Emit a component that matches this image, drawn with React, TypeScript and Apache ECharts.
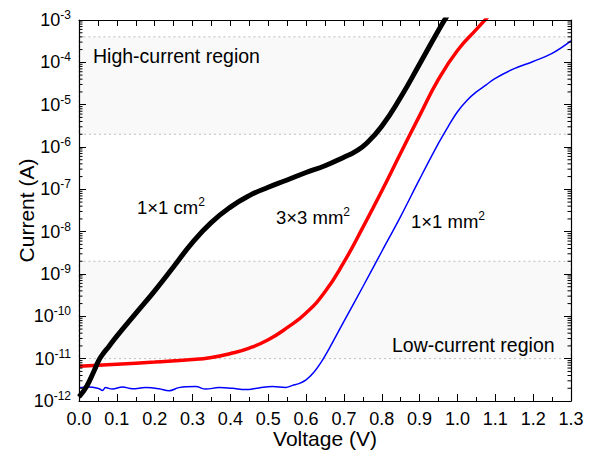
import React, { useEffect, useRef } from "react";
import * as echarts from "echarts";

// 1×1 cm² device (black)
const voltageBlack = [0, 0.02, 0.04, 0.05, 0.06, 0.08, 0.1, 0.15, 0.2, 0.25, 0.3, 0.35, 0.4, 0.45, 0.5, 0.55, 0.6, 0.65, 0.7, 0.73, 0.76, 0.8, 0.85, 0.9, 0.95, 0.975];
const currentBlack = [1.25e-12, 2.2e-12, 5.2e-12, 8.3e-12, 1.18e-11, 2.0e-11, 3.4e-11, 1.17e-10, 4.0e-10, 1.48e-9, 5.6e-9, 1.66e-8, 3.8e-8, 7.1e-8, 1.12e-7, 1.66e-7, 2.5e-7, 3.6e-7, 5.75e-7, 7.8e-7, 1.23e-6, 3.1e-6, 1.5e-5, 9.1e-5, 5.75e-4, 1.35e-3];

// 3×3 mm² device (red)
const voltageRed = [0, 0.1, 0.2, 0.3, 0.35, 0.4, 0.45, 0.5, 0.55, 0.6, 0.65, 0.7, 0.75, 0.8, 0.85, 0.9, 0.95, 1.0, 1.05, 1.08];
const currentRed = [6.6e-12, 7.4e-12, 8.3e-12, 9.5e-12, 1.07e-11, 1.32e-11, 1.78e-11, 2.8e-11, 5.4e-11, 1.2e-10, 3.8e-10, 1.9e-9, 1.26e-8, 9.1e-8, 7.2e-7, 5.5e-6, 4.0e-5, 1.9e-4, 6.0e-4, 1.17e-3];

// 1×1 mm² device (blue)
const voltageBlue = [0, 0.026, 0.053, 0.062, 0.07, 0.088, 0.115, 0.141, 0.176, 0.211, 0.238, 0.264, 0.308, 0.335, 0.37, 0.405, 0.44, 0.476, 0.511, 0.546, 0.564, 0.581, 0.6, 0.62, 0.64, 0.66, 0.68, 0.7, 0.75, 0.8, 0.85, 0.9, 0.95, 0.975, 1.0, 1.025, 1.05, 1.075, 1.1, 1.15, 1.2, 1.25, 1.3];
const currentBlue = [2.07e-12, 2.14e-12, 1.95e-12, 1.78e-12, 2.07e-12, 1.91e-12, 2.14e-12, 1.95e-12, 2.07e-12, 1.95e-12, 1.74e-12, 2.07e-12, 2.19e-12, 1.91e-12, 2.07e-12, 2.0e-12, 1.86e-12, 2.04e-12, 2.19e-12, 2.09e-12, 2.34e-12, 2.57e-12, 3.16e-12, 4.7e-12, 8.3e-12, 1.66e-11, 3.55e-11, 7.6e-11, 5.0e-10, 3.4e-9, 2.3e-8, 1.74e-7, 1.23e-6, 3.0e-6, 6.8e-6, 1.26e-5, 2.0e-5, 2.9e-5, 4.2e-5, 7.1e-5, 1.05e-4, 1.62e-4, 3.2e-4];

// shaded regions (current bounds)
const highRegion = [2e-6, 4e-4];
const lowRegion = [1e-11, 2e-9];

// axis ranges
const xMin = 0;
const xMax = 1.3;
const xStep = 0.1;
const yMin = 1e-12;
const yMax = 1e-3;
const decadeExps = [-12, -11, -10, -9, -8, -7, -6, -5, -4];
const minorMantissas = [2, 3, 4, 5, 6, 7, 8, 9];

const FONT = "'Liberation Sans', Arial, sans-serif";

export default function App() {
  const ref = useRef<HTMLDivElement>(null);

  useEffect(() => {
    if (!ref.current) return;
    const chart = echarts.init(ref.current, null, { renderer: "svg" });

    const pairs = (xs: number[], ys: number[]) => xs.map((x, i) => [x, ys[i]]);
    const minorTicks: number[][] = [];
    decadeExps.forEach((e) => minorMantissas.forEach((m) => minorTicks.push([0, m * Math.pow(10, e)])));

    const axisLine = { show: true, onZero: false, lineStyle: { color: "#000", width: 1.2 } };
    const yLabelRich = {
      b: { fontSize: 18, fontFamily: FONT, color: "#000", lineHeight: 22 },
      s: { fontSize: 12, fontFamily: FONT, color: "#000", verticalAlign: "top", lineHeight: 22, padding: [0, 0, 6, 0] },
    };
    const supRich = {
      a: { fontSize: 18.5, fontFamily: FONT, fill: "#000", lineHeight: 22 },
      s: { fontSize: 12, fontFamily: FONT, fill: "#000", verticalAlign: "top", lineHeight: 22, padding: [0, 0, 6, 0] },
    };

    chart.setOption({
      animation: false,
      grid: { left: 79, right: 24, top: 20, bottom: 49, containLabel: false, outerBoundsMode: "none" },
      xAxis: [
        {
          type: "value",
          min: xMin,
          max: xMax,
          interval: xStep,
          position: "bottom",
          name: "Voltage (V)",
          nameLocation: "middle",
          nameGap: 27,
          nameMoveOverlap: false,
          nameTextStyle: { fontSize: 21, fontFamily: FONT, color: "#000", lineHeight: 20 },
          axisLine,
          axisTick: { show: true, inside: true, length: 7, lineStyle: { color: "#000", width: 1 } },
          minorTick: { show: true, splitNumber: 2, length: 4, lineStyle: { color: "#000", width: 1 } },
          axisLabel: { fontSize: 18, lineHeight: 17, fontFamily: FONT, color: "#000", margin: 9, formatter: (v: number) => v.toFixed(1) },
          splitLine: { show: false },
          z: 10,
        },
        {
          type: "value",
          min: xMin,
          max: xMax,
          interval: xStep,
          position: "top",
          axisLine,
          axisTick: { show: true, inside: true, length: 6, lineStyle: { color: "#000", width: 1 } },
          minorTick: { show: true, splitNumber: 2, length: 6, lineStyle: { color: "#000", width: 1 } },
          axisLabel: { show: false },
          splitLine: { show: false },
          z: 10,
        },
      ],
      yAxis: [
        {
          type: "log",
          logBase: 10,
          min: yMin,
          max: yMax,
          splitNumber: 9,
          position: "left",
          name: "Current (A)",
          nameLocation: "middle",
          nameGap: 42,
          nameMoveOverlap: false,
          nameTextStyle: { fontSize: 21, fontFamily: FONT, color: "#000" },
          axisLine,
          axisTick: { show: true, inside: true, length: 7, lineStyle: { color: "#000", width: 1 } },
          axisLabel: {
            margin: 8,
            formatter: (v: number) => `{b|10}{s|${Math.round(Math.log10(v))}}`,
            rich: yLabelRich,
          },
          splitLine: { show: false },
          z: 10,
        },
        {
          type: "log",
          logBase: 10,
          min: yMin,
          max: yMax,
          splitNumber: 9,
          position: "right",
          axisLine,
          axisTick: { show: true, inside: true, length: 7, lineStyle: { color: "#000", width: 1 } },
          axisLabel: { show: false },
          splitLine: { show: false },
          z: 10,
        },
      ],
      series: [
        {
          type: "line",
          data: [],
          z: 0,
          silent: true,
          markArea: {
            silent: true,
            itemStyle: { color: "#f9f9f9", opacity: 1, borderColor: "#bdbdbd", borderWidth: 1, borderType: [2, 3] },
            data: [
              [{ yAxis: highRegion[0] }, { yAxis: highRegion[1] }],
              [{ yAxis: lowRegion[0] }, { yAxis: lowRegion[1] }],
            ],
          },
        },
        {
          type: "custom",
          z: 10,
          silent: true,
          clip: false,
          data: minorTicks,
          encode: { x: 0, y: 1 },
          renderItem: (params: any, api: any) => {
            const pt = api.coord([0, api.value(1)]);
            const cs = params.coordSys;
            const len = 3.5;
            const st = { stroke: "#000", lineWidth: 1 };
            return {
              type: "group",
              children: [
                { type: "line", shape: { x1: cs.x, y1: pt[1], x2: cs.x + len, y2: pt[1] }, style: st },
                { type: "line", shape: { x1: cs.x + cs.width, y1: pt[1], x2: cs.x + cs.width - len, y2: pt[1] }, style: st },
              ],
            };
          },
        },
        {
          name: "1×1 mm²",
          type: "line",
          z: 2,
          data: pairs(voltageBlue, currentBlue),
          showSymbol: false,
          smooth: 0.4,
          lineStyle: { color: "#0000ff", width: 1.5 },
        },
        {
          name: "3×3 mm²",
          type: "line",
          z: 3,
          data: pairs(voltageRed, currentRed),
          showSymbol: false,
          smooth: 0.5,
          lineStyle: { color: "#ff0000", width: 3.5 },
        },
        {
          name: "1×1 cm²",
          type: "line",
          z: 4,
          data: pairs(voltageBlack, currentBlack),
          showSymbol: false,
          smooth: 0.5,
          lineStyle: { color: "#000000", width: 5 },
        },
      ],
      graphic: [
        {
          type: "text",
          z: 100,
          left: 93,
          top: 46,
          style: { text: "High-current region", fontSize: 19.5, fontFamily: FONT, fill: "#000" },
        },
        {
          type: "text",
          z: 100,
          left: 392,
          top: 335,
          style: { text: "Low-current region", fontSize: 19.5, fontFamily: FONT, fill: "#000" },
        },
        {
          type: "text",
          z: 100,
          left: 137,
          top: 196,
          style: { text: "{a|1×1 cm}{s|2}", rich: supRich },
        },
        {
          type: "text",
          z: 100,
          left: 276,
          top: 206,
          style: { text: "{a|3×3 mm}{s|2}", rich: supRich },
        },
        {
          type: "text",
          z: 100,
          left: 411,
          top: 210,
          style: { text: "{a|1×1 mm}{s|2}", rich: supRich },
        },
      ],
    });

    return () => chart.dispose();
  }, []);

  return <div ref={ref} style={{ width: 595, height: 450, position: "absolute", left: 0, top: 0 }} />;
}
